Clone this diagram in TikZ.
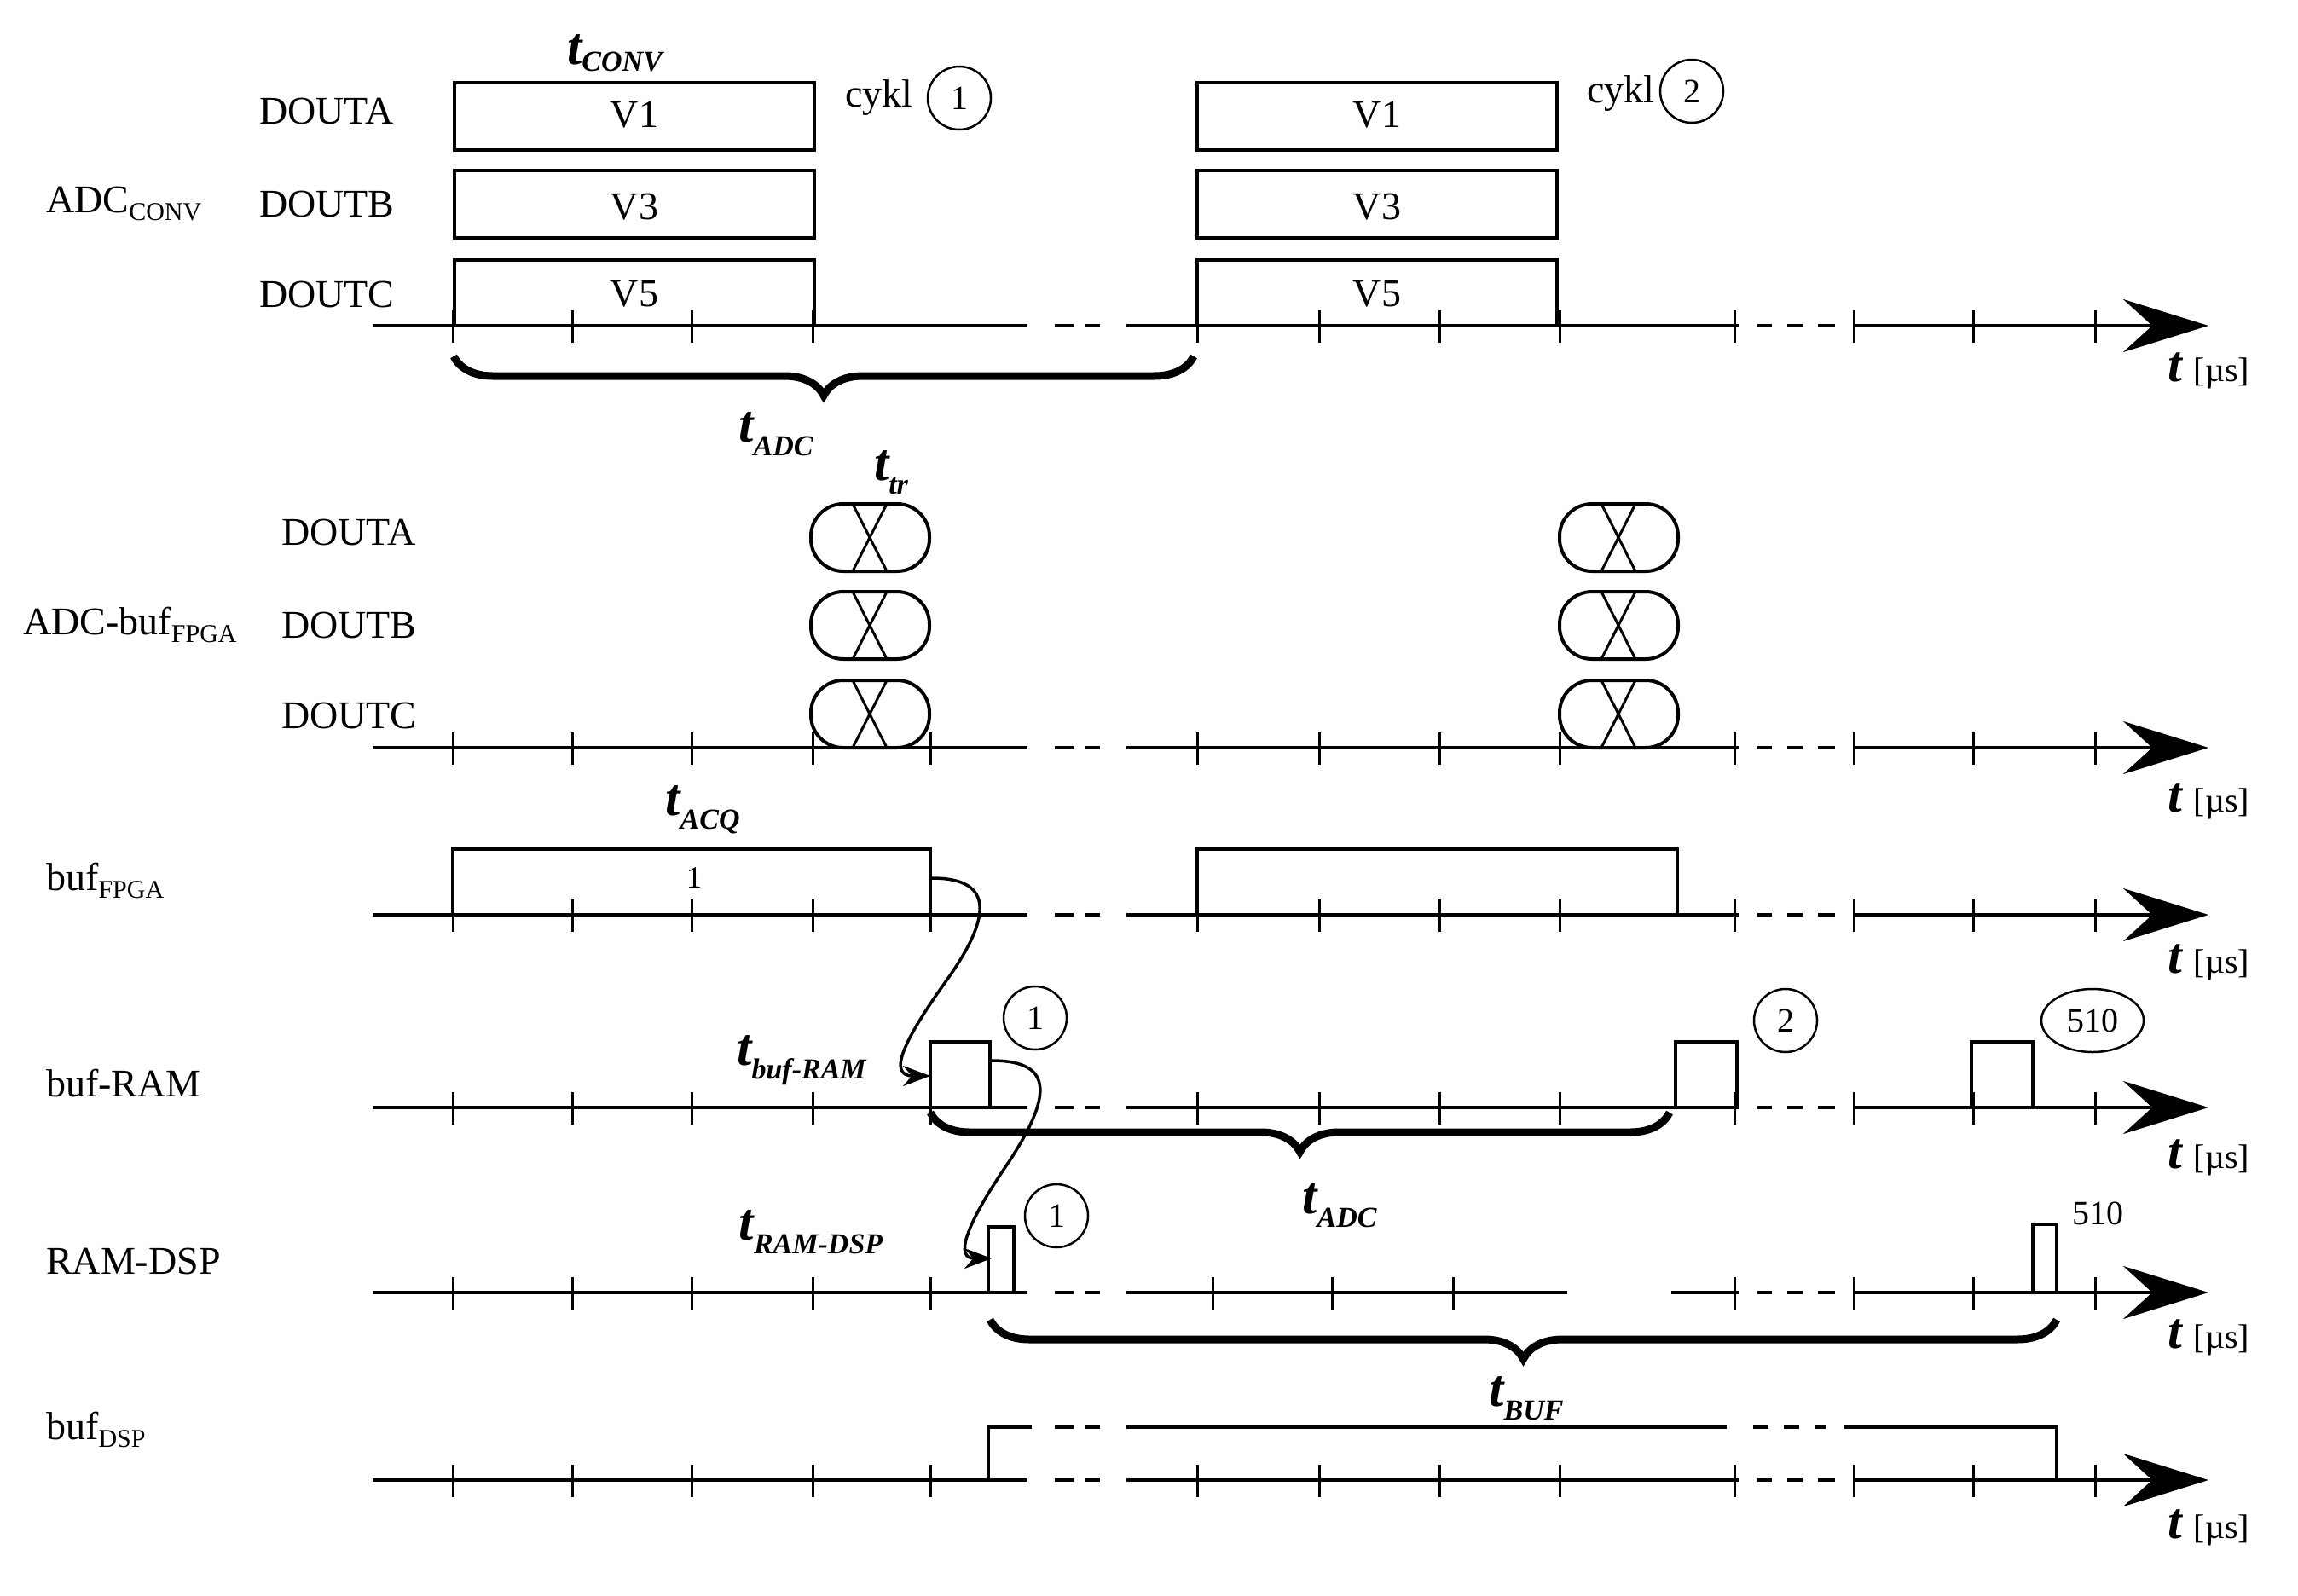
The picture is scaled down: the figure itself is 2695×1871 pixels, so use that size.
\documentclass[tikz,border=0pt]{standalone}
\usepackage{fontspec}
\setmainfont{Liberation Serif}
\usetikzlibrary{arrows.meta,decorations.pathreplacing,shapes.geometric}
\newcommand\tsym[2][-16pt]{{\fontsize{62}{62}\selectfont\bfseries\itshape t}\raisebox{#1}{\fontsize{34}{34}\selectfont\bfseries\itshape #2}}
\newcommand\tunit{{\fontsize{60}{60}\selectfont\bfseries\itshape t}\hspace{14pt}{\fontsize{40}{40}\selectfont[µs]}}
\newcommand\lbl[2]{#1\raisebox{-9pt}{\fontsize{30}{30}\selectfont #2}}
\begin{document}
\begin{tikzpicture}[x=1pt,y=-1pt,
  ax/.style={line width=4pt},
  arr/.style={line width=4pt,-{Stealth[length=100pt,width=62pt,inset=34pt]}},
  bx/.style={line width=4pt},
  tk/.style={line width=3pt},
  txt/.style={font=\fontsize{46}{50}\selectfont,inner sep=0pt},
  circ/.style={draw,line width=2.5pt,circle,minimum size=74pt,inner sep=0pt,font=\fontsize{40}{40}\selectfont},
  brc/.style={decorate,line width=9pt,decoration={brace,amplitude=46pt}},
  cur/.style={line width=3.5pt,-{Stealth[length=32pt,width=24pt]}}]
\useasboundingbox (0,0) rectangle (2695,1871);
\fill[white] (0,0) rectangle (2695,1871);
% axes
\foreach \y/\tl in {382/{531,671,811,953,1404,1547,1688,1829,2034,2174,2314,2457},877/{531,671,811,953,1091,1404,1547,1688,1829,2034,2174,2314,2457},1073/{531,671,811,953,1091,1404,1547,1688,1829,2034,2174,2314,2457},1299/{531,671,811,953,1091,1404,1547,1688,1829,2034,2174,2314,2457},1736/{531,671,811,953,1091,1404,1547,1688,1829,2034,2174,2314,2457}}{
  \draw[ax] (437,\y) -- (1205,\y);
  \draw[ax] (1237,\y) -- (1259,\y) (1272,\y) -- (1290,\y);
  \draw[ax] (1321,\y) -- (2040,\y);
  \draw[ax] (2061,\y) -- (2078,\y) (2096,\y) -- (2114,\y) (2132,\y) -- (2152,\y);
  \draw[arr] (2174,\y) -- (2590,\y);
  \foreach \x in \tl
    \draw[tk] (\x,\y-18) -- (\x,\y+20);
}
% RAM-DSP axis
\def\y{1516}
\draw[ax] (437,\y) -- (1205,\y);
\draw[ax] (1237,\y) -- (1259,\y) (1272,\y) -- (1290,\y);
\draw[ax] (1321,\y) -- (1838,\y) (1960,\y) -- (2040,\y);
\draw[ax] (2061,\y) -- (2078,\y) (2096,\y) -- (2114,\y) (2132,\y) -- (2152,\y);
\draw[arr] (2174,\y) -- (2590,\y);
\foreach \x in {531,671,811,953,1091,1422,1562,1704,2034,2174,2314,2457}
  \draw[tk] (\x,\y-18) -- (\x,\y+20);
% t labels
\foreach \yy/\n in {435/a,940/b,1129/c,1358/d,1569/e,1792/f}
  \node[anchor=center,inner sep=0pt] (tu\n) at (2590,\yy) {\tunit};
% ADC_CONV
\node[txt,anchor=west] (adcconv) at (54,239) {\lbl{ADC}{CONV}};
\node[txt,anchor=west] (da1) at (304,130) {DOUTA};
\node[txt,anchor=west] (db1) at (304,239) {DOUTB};
\node[txt,anchor=west] (dc1) at (304,345) {DOUTC};
\foreach \xa/\xb/\c in {533/955/a,1404/1826/b}{
  \draw[bx] (\xa,97) rectangle (\xb,176);
  \draw[bx] (\xa,200) rectangle (\xb,279);
  \draw[bx] (\xa,382) -- (\xa,305) -- (\xb,305) -- (\xb,382);
  \node[txt] (v1\c) at ({(\xa+\xb)/2},135) {V1};
  \node[txt] (v3\c) at ({(\xa+\xb)/2},243) {V3};
  \node[txt] (v5\c) at ({(\xa+\xb)/2},345) {V5};
}
\node[inner sep=0pt] (tconv) at (721,62) {\tsym[-8pt]{CONV}};
\node[txt,anchor=west] (cyk1) at (991,115) {cykl};
\node[circ] (c1) at (1125,115) {1};
\node[txt,anchor=west] (cyk2) at (1861,110) {cykl};
\node[circ] (c2) at (1984,107) {2};
\draw[brc] (1400,418) -- (532,418);
\node[inner sep=0pt] (tadc1) at (910,509) {\tsym{ADC}};
% ADC-buf
\node[txt,anchor=west] (adcbuf) at (27,733) {\lbl{ADC-buf}{FPGA}};
\node[txt,anchor=west] (da2) at (330,624) {DOUTA};
\node[txt,anchor=west] (db2) at (330,733) {DOUTB};
\node[txt,anchor=west] (dc2) at (330,839) {DOUTC};
\foreach \xa in {951,1829}{
  \foreach \ya in {591,694,798}{
    \draw[bx,rounded corners=38pt] (\xa,\ya) rectangle (\xa+139,\ya+79);
    \draw[line width=3pt] (\xa+49,\ya) -- (\xa+89,\ya+79) (\xa+89,\ya) -- (\xa+49,\ya+79);
  }
}
\node[inner sep=0pt] (ttr) at (1045,554) {\tsym{tr}};
% buf_FPGA
\node[txt,anchor=west] (buffpga) at (54,1033) {\lbl{buf}{FPGA}};
\draw[bx] (531,1073) -- (531,996) -- (1091,996) -- (1091,1073);
\draw[bx] (1404,1073) -- (1404,996) -- (1967,996) -- (1967,1073);
\node[inner sep=0pt,font=\fontsize{36}{36}\selectfont] (one) at (814,1030) {1};
\node[inner sep=0pt] (tacq) at (824,950) {\tsym{ACQ}};
% buf-RAM
\node[txt,anchor=west] (bufram) at (54,1271) {buf-RAM};
\draw[bx] (1091,1299) -- (1091,1222) -- (1161,1222) -- (1161,1299);
\draw[bx] (1965,1299) -- (1965,1222) -- (2037,1222) -- (2037,1299);
\draw[bx] (2312,1299) -- (2312,1222) -- (2384,1222) -- (2384,1299);
\node[circ] (r1) at (1214,1194) {1};
\node[circ] (r2) at (2094,1197) {2};
\node[draw,ellipse,line width=2.5pt,minimum width=120pt,minimum height=74pt,inner sep=0pt,font=\fontsize{40}{40}\selectfont] (r510) at (2454,1197) {510};
\node[inner sep=0pt] (tbr) at (940,1244) {\tsym{buf-RAM}};
\draw[brc] (1958,1305) -- (1091,1305);
\node[inner sep=0pt] (tadc2) at (1571,1414) {\tsym{ADC}};
% RAM-DSP
\node[txt,anchor=west] (ramdsp) at (54,1479) {RAM-DSP};
\draw[bx] (1159,1516) -- (1159,1439) -- (1189,1439) -- (1189,1516);
\draw[bx] (2384,1516) -- (2384,1436) -- (2412,1436) -- (2412,1516);
\node[circ] (d1) at (1239,1426) {1};
\node[txt,anchor=west,font=\fontsize{40}{40}\selectfont] (d510) at (2430,1423) {510};
\node[inner sep=0pt] (trd) at (951,1445) {\tsym{RAM-DSP}};
\draw[brc] (2412,1548) -- (1161,1548);
\node[inner sep=0pt] (tbuf) at (1790,1640) {\tsym{BUF}};
% buf_DSP
\node[txt,anchor=west] (bufdsp) at (54,1677) {\lbl{buf}{DSP}};
\draw[bx] (1159,1736) -- (1159,1674) -- (1210,1674);
\draw[bx] (1237,1674) -- (1259,1674) (1272,1674) -- (1290,1674);
\draw[bx] (1321,1674) -- (2025,1674);
\draw[bx] (2056,1674) -- (2074,1674) (2092,1674) -- (2110,1674) (2128,1674) -- (2141,1674);
\draw[bx] (2163,1674) -- (2412,1674) -- (2412,1736);
% curved arrows
\coordinate (s1) at (1093,1030);
\coordinate (e1) at (1091,1262);
\coordinate (s2) at (1163,1244);
\coordinate (e2) at (1163,1476);
\draw[cur] (s1) .. controls (1170,1030) and (1160,1080) .. (1110,1150) .. controls (1060,1220) and (1040,1262) .. (e1);
\draw[cur] (s2) .. controls (1240,1244) and (1230,1290) .. (1185,1360) .. controls (1130,1440) and (1120,1476) .. (e2);
\end{tikzpicture}
\end{document}
